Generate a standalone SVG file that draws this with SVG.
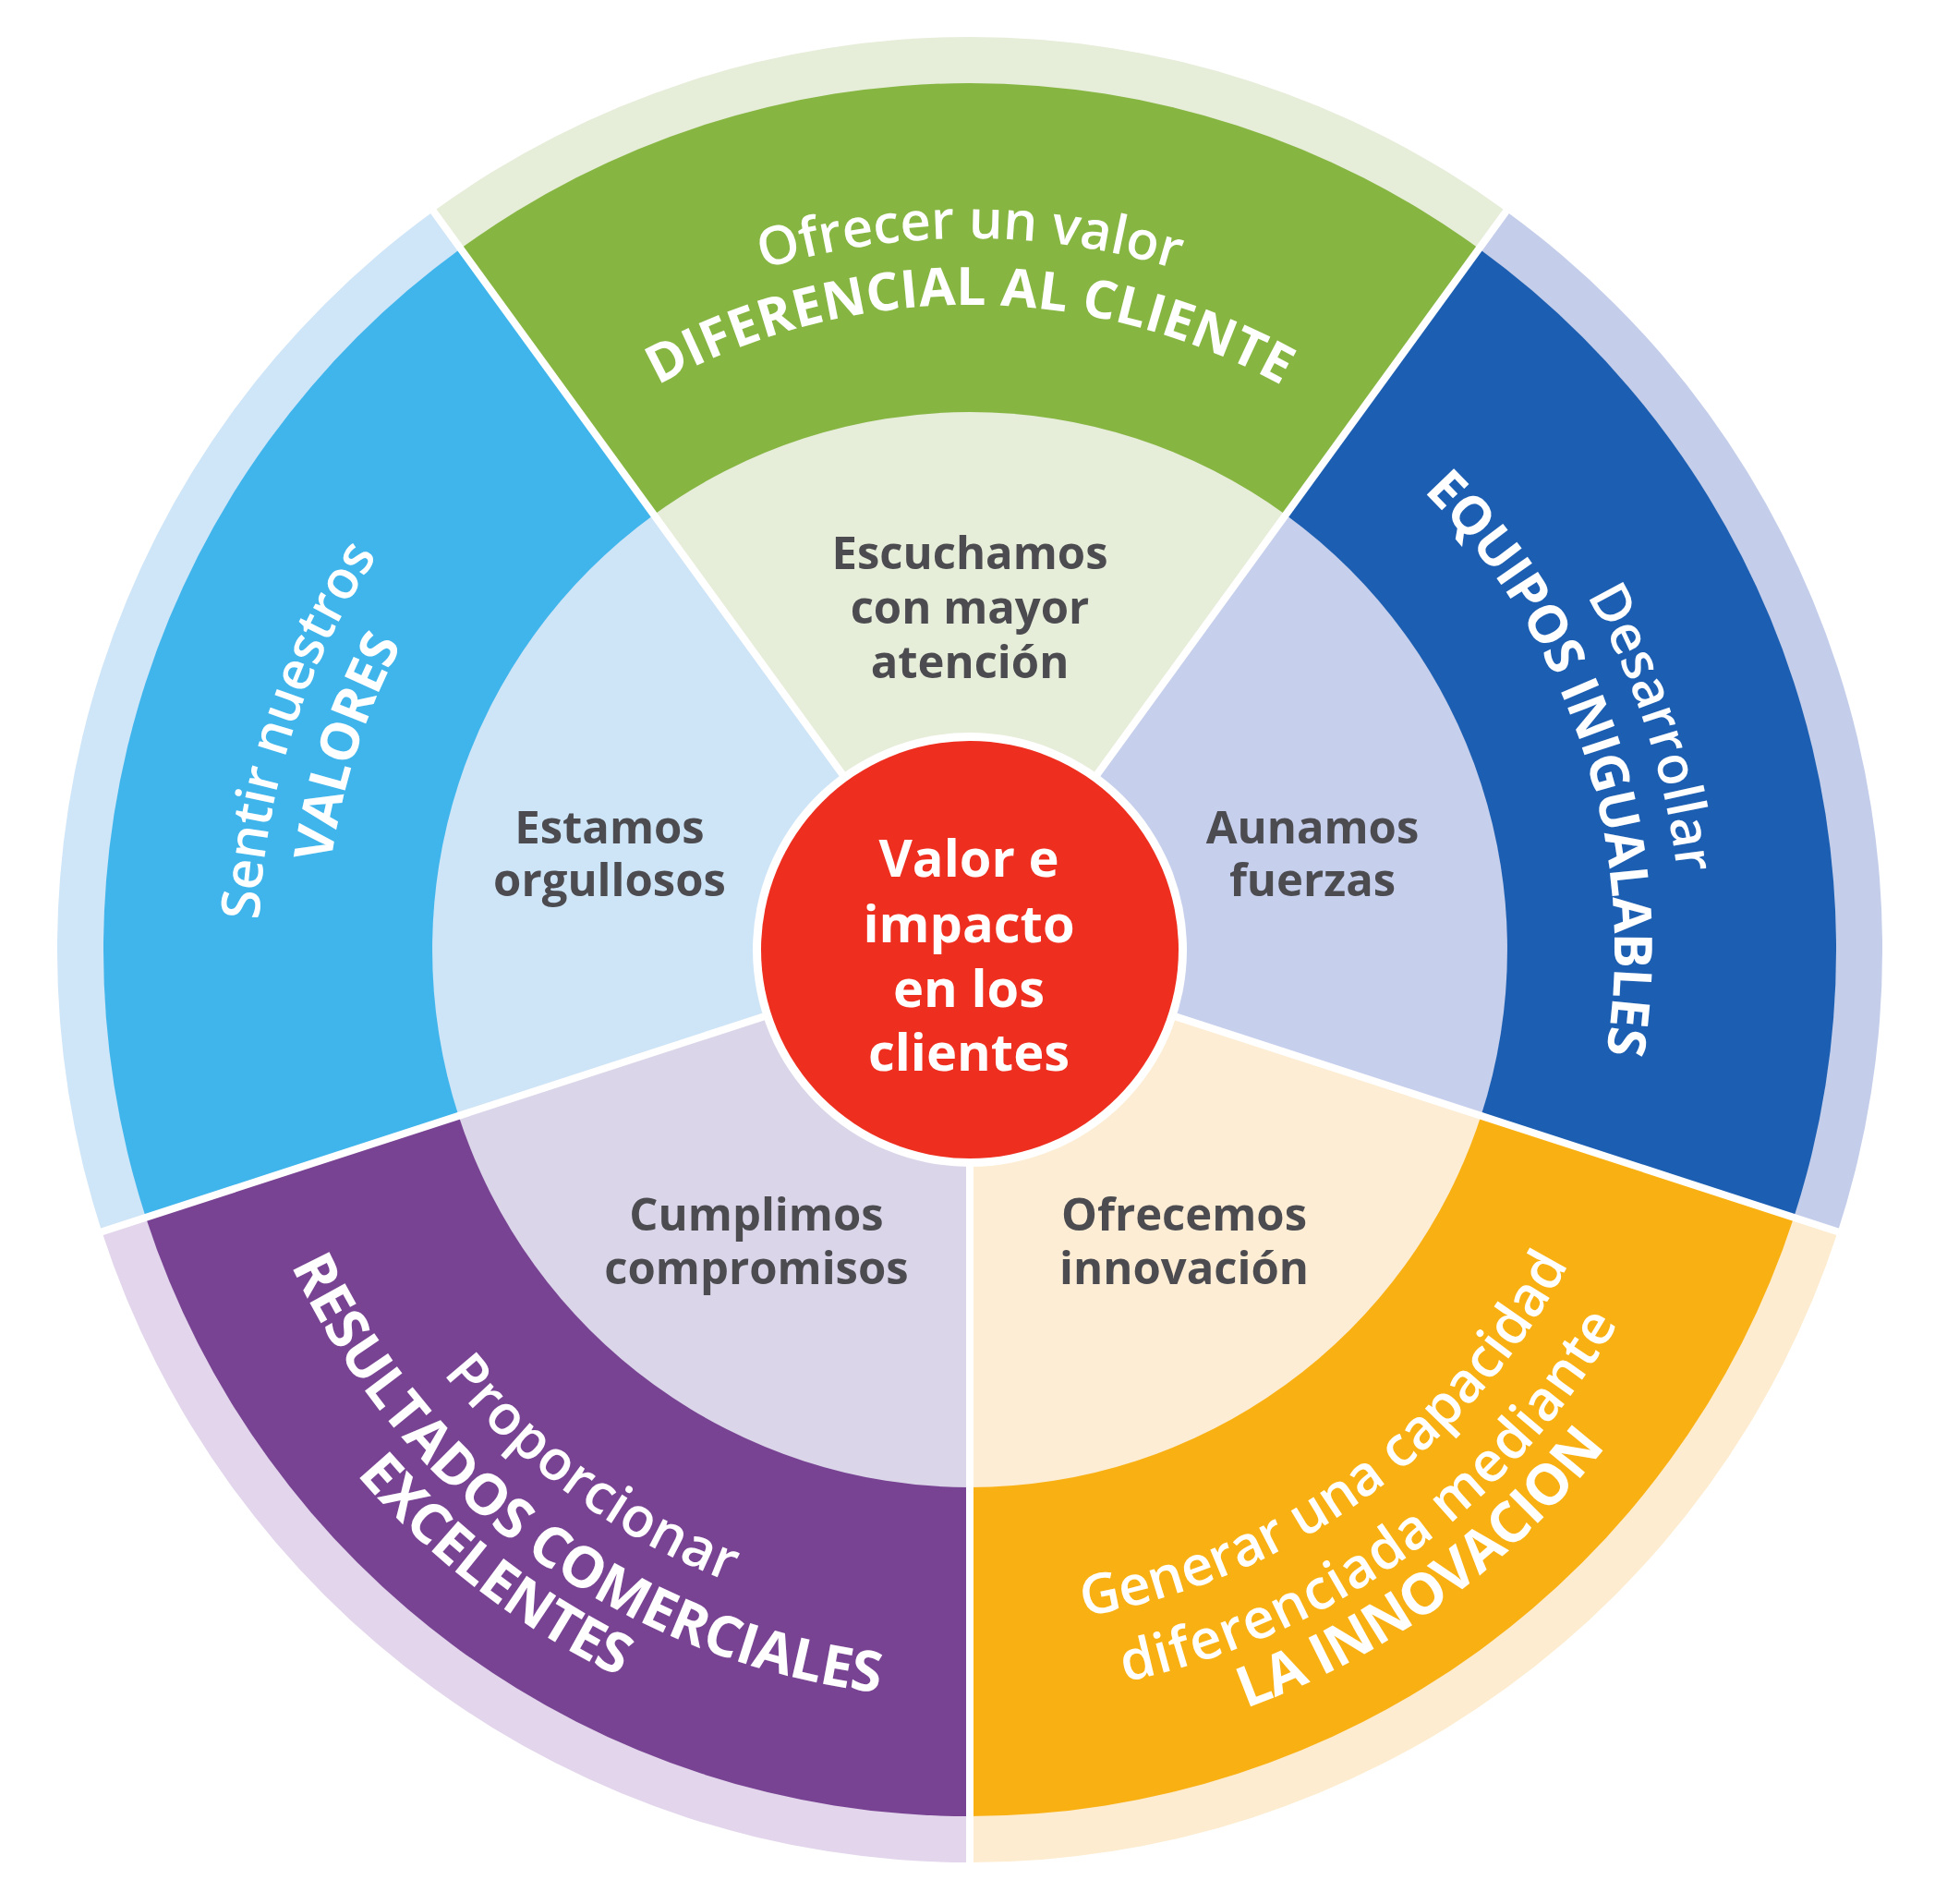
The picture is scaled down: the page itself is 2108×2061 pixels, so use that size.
<svg xmlns="http://www.w3.org/2000/svg" width="2108" height="2061" viewBox="0 0 2108 2061">
<style>
.w{font-family:"Open Sans","Liberation Sans",sans-serif;fill:#ffffff}
.r1{font-weight:600;font-size:58px}
.b1{font-weight:700;font-size:57px}
.r2{font-weight:600;font-size:60px}
.b2{font-weight:700;font-size:61px}
.in{font-family:"Open Sans","Liberation Sans",sans-serif;font-weight:700;font-size:49px;fill:#4b4b50;text-anchor:middle}
.ctr{font-family:"Open Sans","Liberation Sans",sans-serif;font-weight:700;font-size:56px;fill:#ffffff;text-anchor:middle}
.sep{stroke:#ffffff;stroke-width:8;fill:none}
</style>
<defs>
<path id="pG1" d="M291.7,894.3 A770,770 0 0 1 1808.3,894.3"/>
<path id="pG2" d="M362.6,906.8 A698,698 0 0 1 1737.4,906.8"/>
<path id="pL1" d="M688.5,1707.9 A770,770 0 0 1 1157.2,265.5"/>
<path id="pL2" d="M722.3,1644.3 A698,698 0 0 1 1147.1,336.8"/>
<path id="pR1" d="M942.8,265.5 A770,770 0 0 1 1411.5,1707.9"/>
<path id="pR2" d="M952.9,336.8 A698,698 0 0 1 1377.7,1644.3"/>
<path id="pO1" d="M541.5,1554.6 A732,732 0 0 0 1707.9,707.1"/>
<path id="pO2" d="M487.3,1610.7 A810,810 0 0 0 1778.0,672.9"/>
<path id="pO3" d="M442.9,1656.7 A874,874 0 0 0 1835.5,644.9"/>
<path id="pP1" d="M392.1,707.1 A732,732 0 0 0 1558.5,1554.6"/>
<path id="pP2" d="M321.9,672.9 A810,810 0 0 0 1612.7,1610.7"/>
<path id="pP3" d="M264.5,644.9 A874,874 0 0 0 1657.1,1656.7"/>
</defs>
<rect width="2108" height="2061" fill="#ffffff"/>

<g id="sector-green">
<path d="M1050,1028 L469.3,228.7 A988,988 0 0 1 1630.7,228.7 Z" fill="#e6edd9"/>
<path d="M1050,1028 L498.6,269.2 A938,938 0 0 1 1601.4,269.2 Z" fill="#86b542"/>
<path d="M1050,1028 L707.9,557.2 A582,582 0 0 1 1392.1,557.2 Z" fill="#e6edd9"/>
<text class="w r1"><textPath href="#pG1" startOffset="50%" text-anchor="middle" textLength="455">Ofrecer un valor</textPath></text>
<text class="w b1"><textPath href="#pG2" startOffset="50%" text-anchor="middle" textLength="705">DIFERENCIAL AL CLIENTE</textPath></text>
<text class="in" x="1050" y="616">Escuchamos</text>
<text class="in" x="1050" y="675">con mayor</text>
<text class="in" x="1050" y="734">atención</text>
</g>

<g id="sector-darkblue">
<path d="M1050,1028 L1630.7,228.7 A988,988 0 0 1 1989.7,1333.3 Z" fill="#c4ceea"/>
<path d="M1050,1028 L1601.4,269.2 A938,938 0 0 1 1942.1,1317.9 Z" fill="#1c5fb2"/>
<path d="M1050,1028 L1392.1,557.2 A582,582 0 0 1 1603.5,1207.8 Z" fill="#c6cfec"/>
<text class="w r1"><textPath href="#pR1" startOffset="50%" text-anchor="middle" textLength="318">Desarrollar</textPath></text>
<text class="w b1"><textPath href="#pR2" startOffset="50%" text-anchor="middle" textLength="665">EQUIPOS INIGUALABLES</textPath></text>
<text class="in" x="1421" y="913">Aunamos</text>
<text class="in" x="1421" y="970">fuerzas</text>
</g>

<g id="sector-orange">
<path d="M1050,1028 L1989.7,1333.3 A988,988 0 0 1 1050,2016 Z" fill="#fdeccf"/>
<path d="M1050,1028 L1942.1,1317.9 A938,938 0 0 1 1050,1966 Z" fill="#f9b012"/>
<path d="M1050,1028 L1603.5,1207.8 A582,582 0 0 1 1050,1610 Z" fill="#fdedd4"/>
<text class="w r2"><textPath href="#pO1" startOffset="50%" text-anchor="middle" textLength="672">Generar una capacidad</textPath></text>
<text class="w r2"><textPath href="#pO2" startOffset="50%" text-anchor="middle" textLength="680">diferenciada mediante</textPath></text>
<text class="w b2"><textPath href="#pO3" startOffset="50%" text-anchor="middle" textLength="488">LA INNOVACION</textPath></text>
<text class="in" x="1282" y="1332">Ofrecemos</text>
<text class="in" x="1282" y="1390">innovación</text>
</g>

<g id="sector-purple">
<path d="M1050,1028 L1050,2016 A988,988 0 0 1 110.3,1333.3 Z" fill="#e2d5ec"/>
<path d="M1050,1028 L1050,1966 A938,938 0 0 1 157.9,1317.9 Z" fill="#784392"/>
<path d="M1050,1028 L1050,1610 A582,582 0 0 1 496.5,1207.8 Z" fill="#dbd5ea"/>
<text class="w r2"><textPath href="#pP1" startOffset="50%" text-anchor="middle" textLength="388">Proporcionar</textPath></text>
<text class="w b2"><textPath href="#pP2" startOffset="50%" text-anchor="middle" textLength="822">RESULTADOS COMERCIALES</textPath></text>
<text class="w b2"><textPath href="#pP3" startOffset="49%" text-anchor="middle" textLength="362">EXCELENTES</textPath></text>
<text class="in" x="819" y="1332">Cumplimos</text>
<text class="in" x="819" y="1390">compromisos</text>
</g>

<g id="sector-lightblue">
<path d="M1050,1028 L110.3,1333.3 A988,988 0 0 1 469.3,228.7 Z" fill="#cfe5f8"/>
<path d="M1050,1028 L157.9,1317.9 A938,938 0 0 1 498.6,269.2 Z" fill="#3fb5ec"/>
<path d="M1050,1028 L496.5,1207.8 A582,582 0 0 1 707.9,557.2 Z" fill="#cee4f7"/>
<text class="w r1"><textPath href="#pL1" startOffset="50%" text-anchor="middle" textLength="420">Sentir nuestros</textPath></text>
<text class="w b1"><textPath href="#pL2" startOffset="50%" text-anchor="middle" textLength="250">VALORES</textPath></text>
<text class="in" x="660" y="913">Estamos</text>
<text class="in" x="660" y="970">orgullosos</text>
</g>

<g id="connectors">
<line class="sep" x1="1050" y1="1028" x2="1637.8" y2="219.0"/>
<line class="sep" x1="1050" y1="1028" x2="2001.1" y2="1337.0"/>
<line class="sep" x1="1050" y1="1028" x2="1050" y2="2028"/>
<line class="sep" x1="1050" y1="1028" x2="98.9" y2="1337.0"/>
<line class="sep" x1="1050" y1="1028" x2="462.2" y2="219.0"/>
</g>

<g id="center">
<circle cx="1050" cy="1028" r="235" fill="#ffffff"/>
<circle cx="1050" cy="1028" r="226" fill="#ee2e1e"/>
<text class="ctr" x="1049" y="949">Valor e</text>
<text class="ctr" x="1049" y="1020">impacto</text>
<text class="ctr" x="1049" y="1090">en los</text>
<text class="ctr" x="1049" y="1159">clientes</text>
</g>
</svg>
